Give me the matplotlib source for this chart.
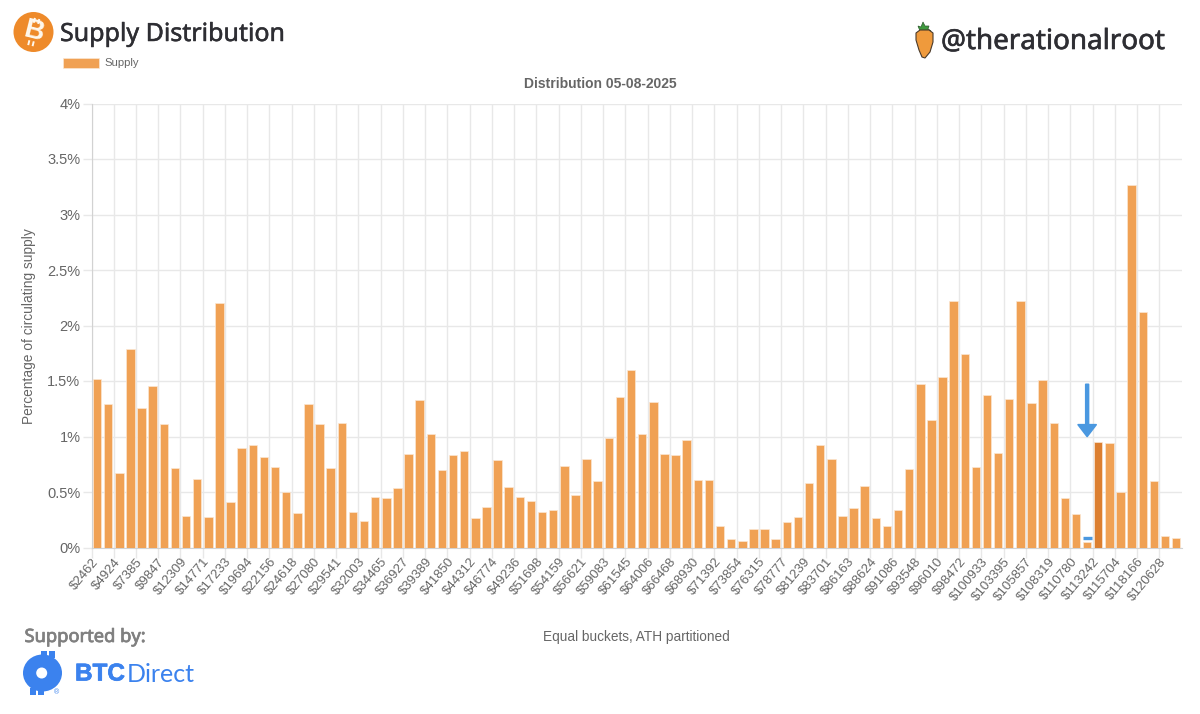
#!/usr/bin/env python3
"""Supply distribution bar chart with header and footer branding."""

import matplotlib
matplotlib.use('Agg')
import matplotlib.pyplot as plt
import matplotlib.patheffects as pe
from matplotlib.patches import Circle, Polygon, Rectangle, Ellipse
from matplotlib.transforms import ScaledTranslation
import numpy as np

# Data
tick_prices = [2462, 4924, 7385, 9847, 12309, 14771, 17233, 19694, 22156, 24618,
               27080, 29541, 32003, 34465, 36927, 39389, 41850, 44312, 46774, 49236,
               51698, 54159, 56621, 59083, 61545, 64006, 66468, 68930, 71392, 73854,
               76315, 78777, 81239, 83701, 86163, 88624, 91086, 93548, 96010, 98472,
               100933, 103395, 105857, 108319, 110780, 113242, 115704, 118166, 120628]

supply = [1.52, 1.29, 0.675, 1.79, 1.26, 1.456, 1.115, 0.72, 0.28, 0.615,
          0.276, 2.20, 0.41, 0.90, 0.92, 0.815, 0.725, 0.50, 0.315, 1.295,
          1.115, 0.72, 1.125, 0.32, 0.24, 0.456, 0.447, 0.54, 0.84, 1.327,
          1.02, 0.695, 0.83, 0.87, 0.265, 0.365, 0.79, 0.547, 0.453, 0.42,
          0.32, 0.34, 0.73, 0.47, 0.80, 0.60, 0.985, 1.36, 1.60, 1.027,
          1.312, 0.844, 0.83, 0.964, 0.604, 0.604, 0.195, 0.078, 0.063, 0.165,
          0.171, 0.08, 0.228, 0.273, 0.585, 0.92, 0.80, 0.282, 0.357, 0.558,
          0.27, 0.19, 0.34, 0.705, 1.477, 1.153, 1.54, 2.22, 1.745, 0.724,
          1.372, 0.853, 1.336, 2.222, 1.306, 1.505, 1.126, 0.45, 0.30, 0.05,
          0.952, 0.937, 0.50, 3.267, 2.126, 0.60, 0.108, 0.084]

y_ticks = [0, 0.5, 1, 1.5, 2, 2.5, 3, 3.5, 4]
y_labels = ['0%', '0.5%', '1%', '1.5%', '2%', '2.5%', '3%', '3.5%', '4%']

current_bucket = 89    # bucket the arrow points at
highlight_bucket = 90  # darker bar
marker_level = 0.085
arrow_top, arrow_tip = 1.47, 1.0

C_BAR = '#f0a154'
C_EDGE = '#fbe6d2'
C_DARK = '#dc7f30'
C_BLUE = '#4a98e0'
C_BRAND = '#3b82ee'
C_GRID = '#e8e8e8'
C_TEXT = '#666666'
C_HEAD = '#2e2e33'
C_COIN = '#fff8ee'
SANS = 'Liberation Sans'
TITLE = 'Noto Sans'

W, H = 1200, 714
fig = plt.figure(figsize=(12, 7.14), dpi=100, facecolor='white')


def heavy(width, color):
    # Noto Sans has no usable medium weight here, so thicken the glyphs
    return [pe.withStroke(linewidth=width, foreground=color)]


# Chart area, in figure fractions from the pixel box
L, R, T, B = 91.5, 1181.7, 103.5, 547.5
ax = fig.add_axes([L / W, 1 - B / H, (R - L) / W, (B - T) / H])

x = np.arange(len(supply))
colors = [C_DARK if i == highlight_bucket else C_BAR for i in x]
ax.bar(x, supply, 0.76, color=colors, edgecolor=C_EDGE, linewidth=0.5, zorder=3)

ax.set_xlim(-0.5, len(supply) - 0.5)
ax.set_ylim(0, 4)
ax.set_yticks(y_ticks)
ax.set_yticklabels(y_labels, fontsize=10.5, color=C_TEXT, family=SANS)
tick_x = np.arange(len(tick_prices)) * 2 - 0.5
ax.set_xticks(tick_x)
ax.set_xticklabels([f'${p}' for p in tick_prices], fontsize=9.5, color=C_TEXT, family=SANS,
                   rotation=50, ha='right', va='top', rotation_mode='anchor')
shift = ScaledTranslation(2.5 / 100, 0, fig.dpi_scale_trans)
for lab in ax.get_xticklabels():
    lab.set_transform(lab.get_transform() + shift)
ax.tick_params(axis='y', length=6.5, width=1, color=C_GRID, pad=1.5)
ax.tick_params(axis='x', length=7, width=1, color=C_GRID, pad=-1)
ax.grid(True, color=C_GRID, linewidth=1, zorder=0)
ax.set_axisbelow(True)
for side in ['top', 'right']:
    ax.spines[side].set_visible(False)
ax.spines['left'].set_color('#d2d2d2')
ax.spines['bottom'].set_color('#d2d2d2')

# Current price marker and arrow
ax.plot([current_bucket - 0.4, current_bucket + 0.4], [marker_level, marker_level],
        color=C_BLUE, linewidth=2.4, solid_capstyle='butt', zorder=4)
ax.annotate('', xy=(current_bucket, arrow_tip), xytext=(current_bucket, arrow_top), zorder=5,
            arrowprops=dict(width=2, headwidth=13, headlength=8.5, shrink=0, facecolor=C_BLUE,
                            edgecolor=C_BLUE, linewidth=1.2, joinstyle='round'))

# Overlay in pixel coordinates for text and logos
ov = fig.add_axes([0, 0, 1, 1], zorder=10)
ov.set_xlim(0, W)
ov.set_ylim(H, 0)
ov.axis('off')

ov.text(600, 84, 'Distribution 05-08-2025', fontsize=10, fontweight='bold', color=C_TEXT,
        family=SANS, ha='center', va='center')
ov.text(29, 326, 'Percentage of circulating supply', fontsize=9.9, color=C_TEXT, family=SANS,
        rotation=90, ha='center', va='center')
ov.text(636.5, 636.5, 'Equal buckets, ATH partitioned', fontsize=9.85, color=C_TEXT, family=SANS,
        ha='center', va='center')

# Legend
ov.add_patch(Rectangle((63, 58), 36, 10, facecolor=C_BAR, edgecolor=C_EDGE, linewidth=0.5))
ov.text(104, 62.5, 'Supply', fontsize=8.1, color=C_TEXT, family=SANS, va='center')

# Bitcoin coin
coin_x, coin_y = 33.5, 32
ov.add_patch(Circle((coin_x, coin_y), 20, facecolor='#ee8a2a', edgecolor='none'))
ov.text(coin_x + 0.5, coin_y, 'B', fontsize=20, fontweight='bold', color=C_COIN, family=SANS,
        rotation=-14, ha='center', va='center', zorder=6)
up = np.array([0.24, -0.97])
across = np.array([0.97, 0.24])
centre = np.array([coin_x, coin_y])
for off in (-2.0, 2.5):
    for a, b in ((9, 14), (-14, -9)):
        p0 = centre + up * a + across * off
        p1 = centre + up * b + across * off
        ov.plot([p0[0], p1[0]], [p0[1], p1[1]], color=C_COIN, lw=1.4, solid_capstyle='butt')

# Header
ov.text(60, 34.5, 'Supply Distribution', fontsize=18, color=C_HEAD, family=TITLE, va='center',
        path_effects=heavy(0.35, C_HEAD))
ov.text(941, 42, '@therationalroot', fontsize=20, color=C_HEAD, family=TITLE, va='center',
        path_effects=heavy(0.45, C_HEAD))

# Carrot
ov.add_patch(Polygon([(920, 31), (918, 26), (921, 27), (923, 22), (925, 26), (929, 26), (928, 29),
                      (931, 31)], facecolor='#3f9a3f', edgecolor='#2c5a2c', linewidth=0.5))
ov.add_patch(Polygon([(916, 33), (920, 30), (929, 30), (933, 33), (933, 42), (930, 52),
                      (925, 58), (922, 57), (919, 50), (916, 40)],
                     facecolor='#ef9a3c', edgecolor='#4a3a2a', linewidth=0.8))

# Footer
ov.text(24.5, 637, 'Supported by:', fontsize=13.2, color='#808080', family=TITLE,
        va='center', path_effects=heavy(0.55, '#808080'))
for bx, by in ((41, 651), (49, 651), (30, 688), (38, 688)):
    ov.add_patch(Rectangle((bx, by), 6, 7, facecolor=C_BRAND, edgecolor='none'))
ov.add_patch(Ellipse((42.5, 673), 39, 37, facecolor=C_BRAND, edgecolor='none'))
ov.add_patch(Circle((41.7, 673), 5.5, facecolor='white', edgecolor='none'))
ov.text(56.5, 692.5, '®', fontsize=5, color=C_BRAND, family=SANS, ha='center', va='center')
ov.text(75, 674, 'BTC', fontsize=17.5, fontweight='bold', color=C_BRAND, family=SANS, va='center',
        path_effects=heavy(0.5, C_BRAND))
ov.text(127, 674, 'Direct', fontsize=18, color=C_BRAND, family='Lato', va='center')

plt.savefig('out.png', dpi=100)
print('done')
